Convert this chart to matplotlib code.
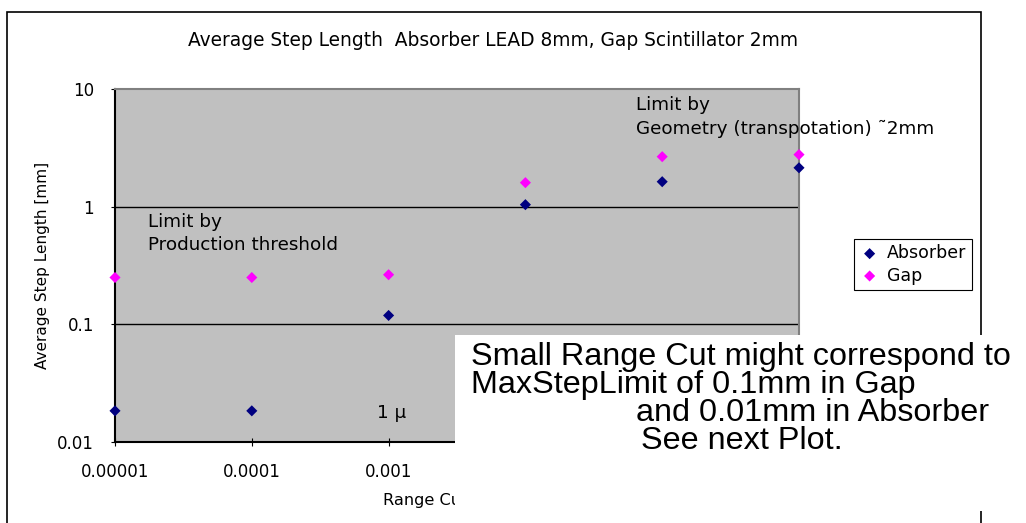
import matplotlib
matplotlib.use("Agg")
import matplotlib.pyplot as plt
from matplotlib.patches import Rectangle
import numpy as np

plt.rcParams['font.family'] = ['DejaVu Sans', 'Noto Sans CJK JP']

# data
range_cut = [0.00001, 0.0001, 0.001, 0.01, 0.1, 1]
absorber = [0.0184, 0.0184, 0.119, 1.04, 1.63, 2.14]
gap = [0.25, 0.25, 0.264, 1.6, 2.66, 2.77]
xtick_vals = [0.00001, 0.0001, 0.001, 0.01, 0.1, 1]
xtick_text = ["0.00001", "0.0001", "0.001", "0.01", "0.1", "1"]
ytick_vals = [0.01, 0.1, 1, 10]
ytick_text = ["0.01", "0.1", "1", "10"]

W, H = 1026, 523
fig = plt.figure(figsize=(W / 100, H / 100), dpi=100)

def fx(px):
    return px / W

def fy(py):
    return 1 - py / H

ax = fig.add_axes([fx(115), fy(442), fx(799) - fx(115), fy(89) - fy(442)])
ax.set_facecolor("#C0C0C0")
ax.set_xscale("log")
ax.set_yscale("log")
ax.set_xlim(0.00001, 1)
ax.set_ylim(0.01, 10)

for v in [0.1, 1]:
    ax.axhline(v, color="black", lw=1, zorder=1)

ax.scatter(range_cut, absorber, marker="D", s=32, color="#000080", label="Absorber",
           zorder=3, clip_on=False, edgecolors="none")
ax.scatter(range_cut, gap, marker="D", s=32, color="#FF00FF", label="Gap",
           zorder=3, clip_on=False, edgecolors="none")

ax.set_xticks(xtick_vals)
ax.set_xticklabels(xtick_text, fontsize=12)
ax.set_yticks(ytick_vals)
ax.set_yticklabels(ytick_text, fontsize=12)
ax.minorticks_off()
ax.tick_params(axis="x", direction="inout", length=6, pad=12)
ax.tick_params(axis="y", direction="out", length=3, pad=12)

for s in ["left", "bottom"]:
    ax.spines[s].set_color("black")
    ax.spines[s].set_linewidth(1.5)
for s in ["top", "right"]:
    ax.spines[s].set_color("#808080")
    ax.spines[s].set_linewidth(1.5)

ax.set_ylabel("Average Step Length [mm]", fontsize=11, labelpad=5)

leg = ax.legend(loc="upper left", bbox_to_anchor=(fx(854), fy(239)),
                bbox_transform=fig.transFigure, fontsize=12.5, frameon=True,
                fancybox=False, edgecolor="black", framealpha=1,
                handletextpad=0.4, borderpad=0.3, labelspacing=0.25,
                handlelength=1.2, scatterpoints=1, borderaxespad=0)
leg.get_frame().set_linewidth(0.8)

# annotations inside the chart
fig.text(fx(148), fy(222), "Limit by", fontsize=13.2, va="center")
fig.text(fx(148), fy(245), "Production threshold", fontsize=13.2, va="center")
fig.text(fx(636), fy(105), "Limit by", fontsize=13.2, va="center")
fig.text(fx(636), fy(129), "Geometry (transpotation) \u02dc2mm", fontsize=13.2, va="center")
fig.text(fx(377), fy(413), "1 \u03bc", fontsize=13.2, va="center")

fig.text(fx(493), fy(40), "Average Step Length  Absorber LEAD 8mm, Gap Scintillator 2mm",
         fontsize=13.4, ha="center", va="center")
fig.text(fx(383), fy(500), "Range Cut [mm]", fontsize=11.6, va="center", zorder=1)

# outer chart frame
fig.patches.append(Rectangle((fx(7), fy(530)), fx(981) - fx(7), fy(12) - fy(530),
                             transform=fig.transFigure, fill=False, edgecolor="black",
                             lw=1.2, zorder=1))

# overlaid white comment box
fig.patches.append(Rectangle((fx(455), fy(511)), fx(1030) - fx(455), fy(335) - fy(511),
                             transform=fig.transFigure, facecolor="white",
                             edgecolor="none", zorder=2))
box_lines = [
    (471, 357, "Small Range Cut might correspond to"),
    (471, 385, "MaxStepLimit of 0.1mm in Gap"),
    (636, 413, "and 0.01mm in Absorber"),
    (641, 441, "See next Plot."),
]
for px, py, txt in box_lines:
    fig.text(fx(px), fy(py), txt, fontsize=23.3, family="Liberation Sans",
             va="center", zorder=3)

fig.savefig("out.png", dpi=100)
